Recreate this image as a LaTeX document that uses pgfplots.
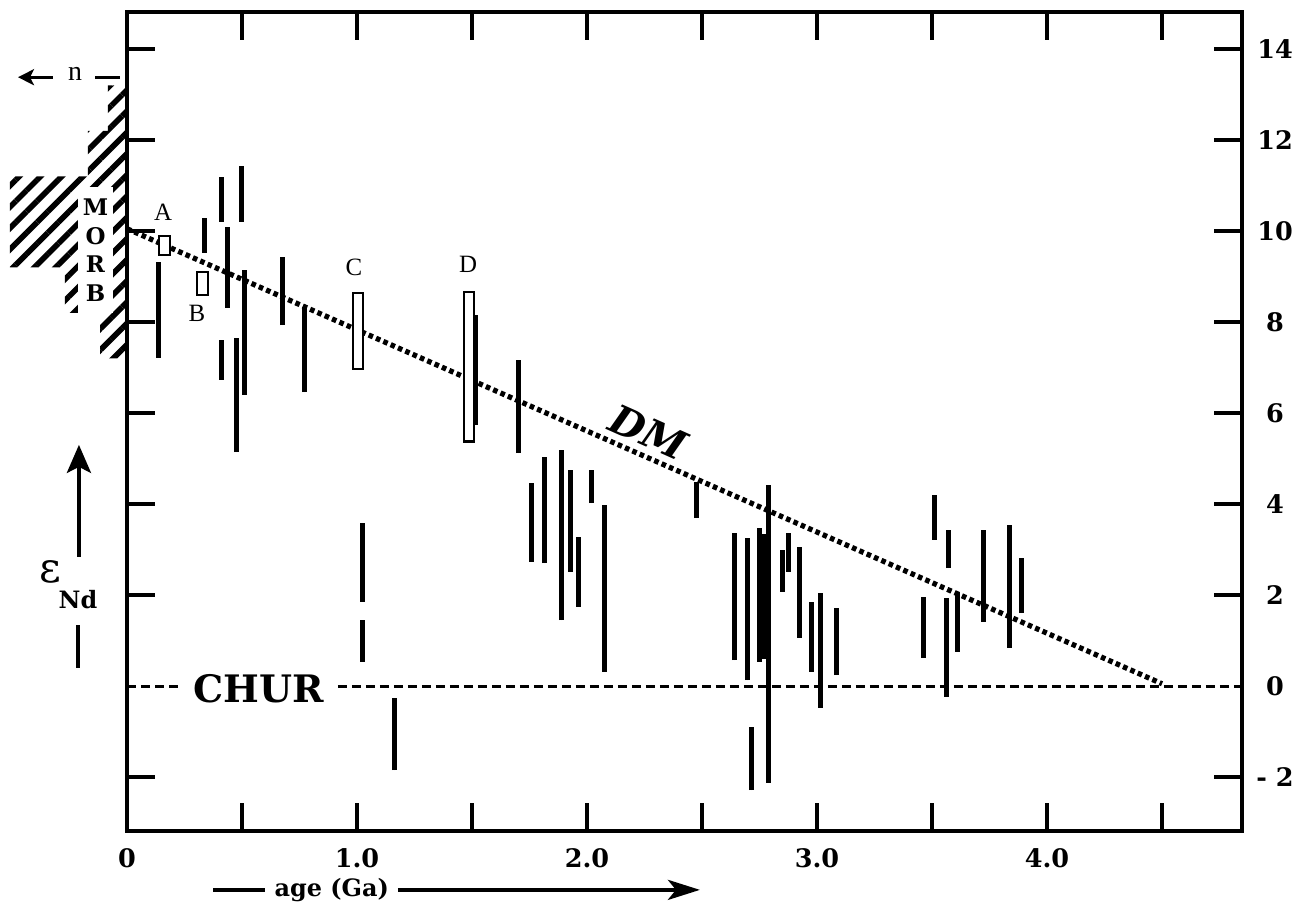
\documentclass[border=0pt]{standalone}
\usepackage{fontspec}
\setmainfont{DejaVu Serif}
\newfontfamily\tms{Liberation Serif}
\usepackage{pgfplots}
\usepackage{pgfplotstable}
\pgfplotsset{compat=1.18}
\usetikzlibrary{patterns.meta,arrows.meta}

% vertical error bars: age (Ga), lower and upper eps Nd
\pgfplotstableread{
x     lo     hi
0.135  7.21  9.32
0.335  9.52 10.29
0.409 10.20 11.19
0.496 10.20 11.43
0.439  8.31 10.09
0.513  6.40  9.14
0.409  6.73  7.60
0.478  5.14  7.65
0.674  7.93  9.43
0.770  6.46  8.33
1.026  1.85  3.58
1.026  0.53  1.45
1.165 -1.85 -0.26
1.513  5.74  8.15
1.700  5.12  7.16
1.757  2.73  4.46
1.813  2.70  5.03
1.891  1.45  5.19
1.930  2.51  4.75
1.965  1.74  3.27
2.020  4.02  4.75
2.074  0.31  3.98
2.478  3.69  4.48
2.643  0.57  3.36
2.696  0.13  3.25
2.713 -2.29 -0.90
2.752  0.53  3.47
2.768  0.60  3.35
2.787 -2.13  4.42
2.848  2.07  2.99
2.876  2.51  3.36
2.922  1.06  3.05
2.978  0.31  1.85
3.017 -0.48  2.04
3.083  0.24  1.71
3.461  0.62  1.96
3.509  3.21  4.20
3.561 -0.24  1.93
3.570  2.59  3.43
3.609  0.75  2.07
3.722  1.41  3.43
3.835  0.84  3.54
3.887  1.60  2.81
}\bars

\begin{document}
\begin{tikzpicture}
\begin{axis}[
  scale only axis, width=557.5bp, height=409.5bp,
  xmin=0, xmax=4.848, ymin=-3.187, ymax=14.813,
  clip=false,
  axis line style={line width=2bp},
  tick align=inside,
  major tick length=14bp,
  tick style={black, line width=2bp},
  xtick={0,0.5,1,1.5,2,2.5,3,3.5,4,4.5},
  xticklabels={0,,1.0,,2.0,,3.0,,4.0,},
  xtick pos=both,
  xticklabel pos=bottom,
  xticklabel style={anchor=center, yshift=-13.5bp},
  ytick={-2,2,4,6,8,10,12,14},
  yticklabels={- 2,2,4,6,8,10,12,14},
  extra y ticks={0}, extra y tick labels={0},
  extra y tick style={major tick length=0pt},
  yticklabel pos=right,
  ytick pos=both,
  yticklabel style={anchor=center, xshift=16.5bp},
  ticklabel style={font=\bfseries\fontsize{12.8}{14}\selectfont},
]
% MORB histogram (counts to the left)
\addplot[draw=none, pattern={Lines[angle=45,distance=7.5bp,line width=2.8bp]}]
  coordinates {(0,13.2) (-0.083,13.2) (-0.083,12.2) (-0.17,12.2) (-0.17,11.2)
  (-0.509,11.2) (-0.509,9.2) (-0.27,9.2) (-0.27,8.2) (-0.117,8.2) (-0.117,7.2) (0,7.2)} -- cycle;
\node[fill=white, inner sep=0pt, minimum width=17.5bp, minimum height=63bp,
  align=center, font=\bfseries\fontsize{11.5}{14.5}\selectfont]
  at (axis cs:-0.137,9.58) {M\\O\\R\\B};

% error bars
\addplot[only marks, mark size=0pt, mark options={draw=none, fill=none},
  error bars/.cd, y dir=plus, y explicit, error mark=none,
  error bar style={black, line width=2.5bp}]
  table[x=x, y=lo, y error plus expr=\thisrow{hi}-\thisrow{lo}] {\bars};

% CHUR line
\addplot[black, line width=1.5bp, dash pattern=on 4.5bp off 2.5bp]
  coordinates {(0,0) (0.222,0)};
\addplot[black, line width=1.5bp, dash pattern=on 4.5bp off 2.5bp]
  coordinates {(0.917,0) (4.848,0)};
% DM line
\addplot[black, line width=2.6bp, dash pattern=on 2.3bp off 1.7bp]
  coordinates {(0,10.05) (4.5,0.05)};

% open boxes A-D
\addplot[black, fill=white, line width=1.3bp]
  coordinates {(0.139,9.47) (0.187,9.47) (0.187,9.89) (0.139,9.89)} -- cycle;
\addplot[black, fill=white, line width=1.3bp]
  coordinates {(0.304,8.59) (0.352,8.59) (0.352,9.10) (0.304,9.10)} -- cycle;
\addplot[black, fill=white, line width=1.3bp]
  coordinates {(0.983,6.97) (1.026,6.97) (1.026,8.64) (0.983,8.64)} -- cycle;
\addplot[black, fill=white, line width=1.3bp]
  coordinates {(1.465,5.38) (1.509,5.38) (1.509,8.66) (1.465,8.66)} -- cycle;

\node[font=\tms\fontsize{12.5}{14}\selectfont] at (axis cs:0.157,10.42) {A};
\node[font=\tms\fontsize{12.5}{14}\selectfont] at (axis cs:0.304,8.20) {B};
\node[font=\tms\fontsize{12.5}{14}\selectfont] at (axis cs:0.987,9.19) {C};
\node[font=\tms\fontsize{12.5}{14}\selectfont] at (axis cs:1.483,9.27) {D};

\node[font=\bfseries\itshape\fontsize{20}{22}\selectfont, rotate=-24, anchor=south, inner sep=4.5bp]
  at (axis cs:2.225,5.10) {DM};
\node[font=\bfseries\fontsize{19}{22}\selectfont] at (axis cs:0.574,-0.07) {CHUR};

% n arrow
\draw[line width=1.5bp, -{Stealth[length=8bp,width=8bp,inset=2bp]}] (axis cs:-0.322,13.38) -- (axis cs:-0.474,13.38);
\node[font=\tms\fontsize{14}{16}\selectfont] at (axis cs:-0.226,13.45) {n};
\draw[line width=1.5bp] (axis cs:-0.139,13.38) -- (axis cs:-0.030,13.38);

% eps Nd label
\draw[line width=2bp, -{Stealth[length=14bp,width=12bp,inset=3bp]}] (axis cs:-0.209,2.84) -- (axis cs:-0.209,5.30);
\node[font=\fontsize{21}{24}\selectfont] at (axis cs:-0.335,2.50) {ε};
\node[font=\bfseries\fontsize{12}{14}\selectfont] at (axis cs:-0.213,1.89) {Nd};
\draw[line width=2bp] (axis cs:-0.213,1.34) -- (axis cs:-0.213,0.40);

% age label
\node[font=\bfseries\fontsize{12}{14}\selectfont] at (axis cs:0.890,-4.48) {age (Ga)};
\draw[line width=2bp] (axis cs:0.374,-4.48) -- (axis cs:0.600,-4.48);
\draw[line width=2bp, -{Stealth[length=16bp,width=10bp,inset=4bp]}] (axis cs:1.178,-4.48) -- (axis cs:2.491,-4.48);

\path (axis cs:-0.5522,-5.077) rectangle (axis cs:5.1478,15.077);
\end{axis}
\end{tikzpicture}
\end{document}
